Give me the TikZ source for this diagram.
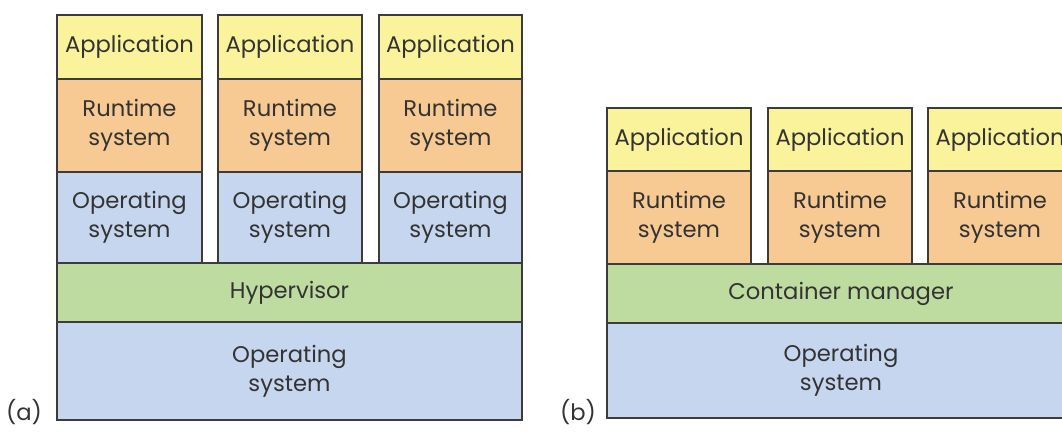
\documentclass[tikz,border=0pt]{standalone}
\usepackage{fontspec}
\setmainfont{Poppins}
\definecolor{appc}{HTML}{FBF39B}
\definecolor{rtc}{HTML}{F7CA93}
\definecolor{osc}{HTML}{C6D6EE}
\definecolor{hvc}{HTML}{BFDCA0}
\definecolor{edge}{HTML}{3C3C3C}
\definecolor{txt}{HTML}{333333}
\tikzset{
  box/.style={draw=edge, line width=1.5pt, inner sep=0pt, align=center,
    text=txt, font=\fontsize{17}{22}\selectfont},
  lbl/.style={inner sep=0pt, text=txt, font=\fontsize{17}{22}\selectfont}
}
\newcommand\lay[7]{\node[box,fill=#6,minimum width={(#4-#2)*0.75pt},minimum height={(#5-#3)*0.75pt}] (#1) at ({(#2+#4)/2},{(#3+#5)/2}) {#7};}
\begin{document}
\begin{tikzpicture}[x=0.75pt,y=-0.75pt]
\useasboundingbox (0,0) rectangle (1062,432);
\clip (0,0) rectangle (1062,432);
\fill[white] (0,0) rectangle (1062,432);
% (a)
\lay{aos}{57}{322}{522}{420}{osc}{Operating\\system}
\lay{ahv}{57}{263}{522}{322}{hvc}{Hypervisor}
\lay{aos1}{57}{172}{202}{263}{osc}{Operating\\system}
\lay{art1}{57}{79}{202}{172}{rtc}{Runtime\\system}
\lay{aap1}{57}{15}{202}{79}{appc}{Application}
\lay{aos2}{218}{172}{362}{263}{osc}{Operating\\system}
\lay{art2}{218}{79}{362}{172}{rtc}{Runtime\\system}
\lay{aap2}{218}{15}{362}{79}{appc}{Application}
\lay{aos3}{379}{172}{522}{263}{osc}{Operating\\system}
\lay{art3}{379}{79}{522}{172}{rtc}{Runtime\\system}
\lay{aap3}{379}{15}{522}{79}{appc}{Application}
\node[lbl] (la) at (24,412) {(a)};
% (b)
\lay{bos}{607}{323}{1075}{418}{osc}{Operating\\system}
\lay{bcm}{607}{264}{1075}{323}{hvc}{Container manager}
\lay{brt1}{607}{171}{751}{264}{rtc}{Runtime\\system}
\lay{bap1}{607}{108}{751}{171}{appc}{Application}
\lay{brt2}{768}{171}{912}{264}{rtc}{Runtime\\system}
\lay{bap2}{768}{108}{912}{171}{appc}{Application}
\lay{brt3}{928}{171}{1072}{264}{rtc}{Runtime\\system}
\lay{bap3}{928}{108}{1072}{171}{appc}{Application}
\node[lbl] (lb) at (578,412) {(b)};
\end{tikzpicture}
\end{document}
